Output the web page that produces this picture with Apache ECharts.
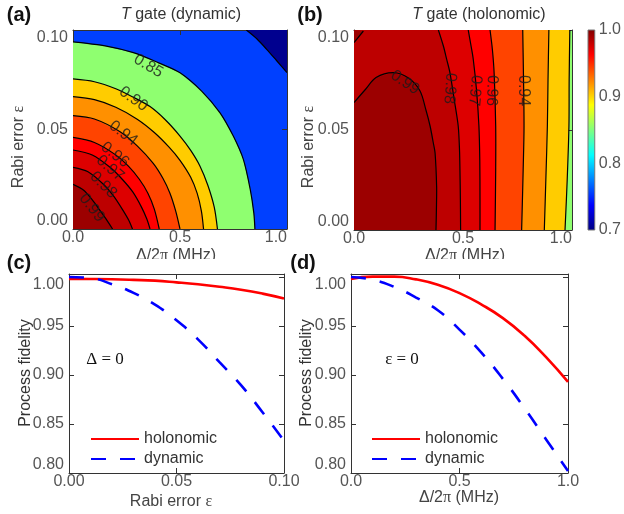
<!DOCTYPE html>
<html>
<head>
<meta charset="utf-8">
<script src="https://cdn.jsdelivr.net/npm/echarts@6/dist/echarts.min.js"></script>
<style>
  html, body { margin: 0; padding: 0; background: #fff; }
  #main { width: 624px; height: 514px; }
</style>
</head>
<body>
<div id="main"></div>
<script>
  // --- line plots (c) and (d) ---
  var rabiX = [0, 0.01, 0.02, 0.03, 0.04, 0.05, 0.06, 0.07, 0.08, 0.09, 0.1];
  var holoVsRabi = [0.998, 0.9979, 0.9976, 0.997, 0.9962, 0.9945, 0.9925, 0.99, 0.987, 0.983, 0.978];
  var dynVsRabi = [1.0, 0.9988, 0.9926, 0.9837, 0.9718, 0.9558, 0.9363, 0.913, 0.8896, 0.862, 0.833];

  var detuneX = [0, 0.1, 0.2, 0.3, 0.4, 0.5, 0.6, 0.7, 0.8, 0.9, 1.0];
  var holoVsDetune = [0.998, 1.0003, 1.0003, 0.9975, 0.992, 0.9835, 0.972, 0.958, 0.94, 0.918, 0.893];
  var dynVsDetune = [1.0, 0.9972, 0.9898, 0.979, 0.966, 0.9463, 0.923, 0.896, 0.866, 0.834, 0.802];

  var fidelityTicks = [0.8, 0.85, 0.9, 0.95, 1.0];

  // --- contour lines, panel (a): [detuning, rabi error] ---
  var a075 = [[0.81, 0.1], [0.86, 0.0955], [0.905, 0.0903], [0.95, 0.0848], [1.0, 0.0786]];
  var a085 = [[0, 0.094], [0.15, 0.092], [0.282, 0.0886], [0.4, 0.0835], [0.5, 0.0785], [0.601, 0.0693], [0.687, 0.0584], [0.749, 0.0467], [0.796, 0.035], [0.828, 0.02], [0.845, 0.008], [0.85, 0]];
  var a090 = [[0, 0.0754], [0.1, 0.074], [0.2, 0.0705], [0.282, 0.0662], [0.36, 0.0615], [0.43, 0.055], [0.5, 0.0467], [0.55, 0.0395], [0.593, 0.0317], [0.63, 0.022], [0.66, 0.011], [0.675, 0]];
  var a092 = [[0, 0.0665], [0.1, 0.065], [0.2, 0.0612], [0.3, 0.0552], [0.38, 0.0485], [0.45, 0.041], [0.5, 0.0345], [0.55, 0.026], [0.58, 0.018], [0.6, 0.009], [0.61, 0]];
  var a094 = [[0, 0.057], [0.1, 0.0553], [0.22, 0.0489], [0.3, 0.0418], [0.375, 0.033], [0.42, 0.0255], [0.453, 0.018], [0.48, 0.009], [0.5, 0]];
  var a096 = [[0, 0.046], [0.1, 0.0435], [0.196, 0.0375], [0.26, 0.0315], [0.31, 0.025], [0.35, 0.018], [0.38, 0.01], [0.403, 0]];
  var a097 = [[0, 0.0397], [0.09, 0.0372], [0.173, 0.031], [0.23, 0.025], [0.28, 0.0185], [0.32, 0.011], [0.345, 0.005], [0.36, 0]];
  var a098 = [[0, 0.031], [0.07, 0.0288], [0.142, 0.0225], [0.19, 0.0165], [0.23, 0.01], [0.26, 0.0045], [0.278, 0]];
  var a099 = [[0, 0.0225], [0.05, 0.0195], [0.091, 0.0145], [0.125, 0.0095], [0.155, 0.005], [0.185, 0]];

  // --- contour lines, panel (b) ---
  var b090 = [[0.99, 0.1], [0.987, 0.075], [0.986, 0.052], [0.978, 0.025], [0.968, 0]];
  var b092 = [[0.894, 0.1], [0.89, 0.075], [0.887, 0.052], [0.88, 0.025], [0.873, 0]];
  var b094 = [[0.774, 0.1], [0.777, 0.08], [0.78, 0.052], [0.776, 0.03], [0.769, 0]];
  var b096 = [[0.624, 0.1], [0.635, 0.09], [0.643, 0.078], [0.65, 0.052], [0.65, 0.03], [0.647, 0]];
  var b097 = [[0.524, 0.1], [0.537, 0.092], [0.547, 0.0854], [0.562, 0.07], [0.573, 0.052], [0.577, 0.035], [0.578, 0.015], [0.578, 0]];
  var b098 = [[0.387, 0.1], [0.41, 0.092], [0.425, 0.0854], [0.44, 0.0787], [0.46, 0.065], [0.478, 0.052], [0.484, 0.04], [0.486, 0.03], [0.488, 0.015], [0.489, 0]];
  var b099 = [[0, 0.0637], [0.05, 0.07], [0.101, 0.0762], [0.18, 0.0787], [0.25, 0.076], [0.303, 0.0695], [0.33, 0.06], [0.349, 0.052], [0.363, 0.044], [0.372, 0.0384], [0.379, 0.0217], [0.378, 0.01], [0.376, 0]];
  var b099corner = [[0, 0.0937], [0.043, 0.0995]];

  // contour label spots: [x, y, text, angle]
  var labelsA = [[0.352, 0.0819, '0.85', -31], [0.282, 0.0653, '0.90', -36], [0.235, 0.0481, '0.94', -37],
    [0.196, 0.0372, '0.96', -38], [0.173, 0.0305, '0.97', -41], [0.142, 0.0221, '0.98', -45], [0.088, 0.0106, '0.99', -52]];
  var labelsB = [[0.234, 0.0737, '0.99', -34], [0.44, 0.0708, '0.98', -94], [0.555, 0.0697, '0.97', -95],
    [0.632, 0.0697, '0.96', -92], [0.777, 0.0697, '0.94', -90]];

  var chart = echarts.init(document.getElementById('main'));
  var SANS = '"Liberation Sans", Arial, sans-serif';
  var SERIF = '"Liberation Serif", "DejaVu Serif", serif';
  var TICK = '#555', LINE = '#333';

  var NAVY = '#00008F', BLUE = '#0040FF', GREEN = '#8FFF70', YELLOW = '#FFCC00', ORANGE = '#FF9000',
    ORED = '#FF4400', RED = '#FF0000', RED2 = '#DD0000', RED3 = '#BD0000', DARK = '#9C0000';

  // regions: curve + closing corners, drawn in order
  var regionsA = [
    { c: a075, close: [[1, 0.1]], fill: NAVY },
    { c: a085, close: [[0, 0]], fill: GREEN },
    { c: a090, close: [[0, 0]], fill: YELLOW },
    { c: a092, close: [[0, 0]], fill: ORANGE },
    { c: a094, close: [[0, 0]], fill: ORED },
    { c: a096, close: [[0, 0]], fill: RED },
    { c: a097, close: [[0, 0]], fill: RED2 },
    { c: a098, close: [[0, 0]], fill: RED3 },
    { c: a099, close: [[0, 0]], fill: DARK }
  ];
  var regionsB = [
    { c: b090, close: [[0, 0], [0, 0.1]], fill: YELLOW },
    { c: b092, close: [[0, 0], [0, 0.1]], fill: ORANGE },
    { c: b094, close: [[0, 0], [0, 0.1]], fill: ORED },
    { c: b096, close: [[0, 0], [0, 0.1]], fill: RED },
    { c: b097, close: [[0, 0], [0, 0.1]], fill: RED2 },
    { c: b098, close: [[0, 0], [0, 0.1]], fill: RED3 },
    { c: b099, close: [[0, 0]], fill: DARK },
    { c: b099corner, close: [[0, 0.1]], fill: DARK }
  ];

  function contourSeries(regions, axisIdx) {
    return {
      type: 'custom', xAxisIndex: axisIdx, yAxisIndex: axisIdx, clip: true, silent: true,
      data: regions.map(function (r) { return r.c[0]; }),
      renderItem: function (params, api) {
        var r = regions[params.dataIndex];
        var curve = r.c.map(function (p) { return api.coord(p); });
        var poly = curve.concat(r.close.map(function (p) { return api.coord(p); }));
        return {
          type: 'group', children: [
            { type: 'polygon', shape: { points: poly }, style: { fill: r.fill } },
            { type: 'polyline', shape: { points: curve, smooth: 0.3 }, style: { stroke: '#000', lineWidth: 1.2, fill: null } }
          ]
        };
      }
    };
  }

  function labelSeries(spots, axisIdx) {
    return {
      type: 'scatter', xAxisIndex: axisIdx, yAxisIndex: axisIdx, symbolSize: 0, silent: true, z: 5,
      data: spots.map(function (s) {
        return { value: [s[0], s[1]], label: { formatter: s[2], rotate: s[3] } };
      }),
      label: { show: true, position: 'inside', color: '#1a1a1a', fontSize: 16, fontFamily: SANS }
    };
  }

  function xAx(grid, min, max, interval, digits, top, alignRight) {
    return {
      type: 'value', gridIndex: grid, min: min, max: max, interval: interval, position: top ? 'top' : 'bottom',
      axisLine: { show: true, onZero: false, lineStyle: { color: LINE, width: 1 } },
      axisTick: { show: true, inside: true, length: 5, lineStyle: { color: LINE } },
      axisLabel: { show: !top, margin: 1, color: TICK, fontSize: 16, fontFamily: SANS,
        alignMaxLabel: alignRight ? 'right' : null,
        formatter: function (v) { return v.toFixed(digits); } },
      splitLine: { show: false }
    };
  }
  function yAx(grid, min, max, interval, digits, right, custom) {
    var ax = {
      type: 'value', gridIndex: grid, min: min, max: max, interval: interval, position: right ? 'right' : 'left',
      axisLine: { show: true, onZero: false, lineStyle: { color: LINE, width: 1 } },
      axisTick: { show: true, inside: true, length: 5, lineStyle: { color: LINE } },
      axisLabel: { show: !right, margin: 5, color: TICK, fontSize: 16, fontFamily: SANS,
        verticalAlignMinLabel: 'bottom', verticalAlignMaxLabel: 'top',
        formatter: function (v) { return v.toFixed(digits); } },
      splitLine: { show: false }
    };
    if (custom) {
      ax.axisTick.customValues = custom;
      ax.axisLabel.customValues = custom;
    }
    return ax;
  }

  var jetStops = [
    { offset: 0, color: '#800000' }, { offset: 0.125, color: '#FF0000' }, { offset: 0.375, color: '#FFFF00' },
    { offset: 0.625, color: '#00FFFF' }, { offset: 0.875, color: '#0000FF' }, { offset: 1, color: '#000080' }
  ];

  function txt(x, y, text, opts) {
    opts = opts || {};
    return {
      type: 'text', x: x, y: y, rotation: opts.rot || 0, z: opts.z || 10,
      style: {
        text: text, fill: opts.color || '#333',
        font: (opts.bold ? 'bold ' : '') + (opts.size || 16) + 'px ' + (opts.family || SANS),
        align: 'center', verticalAlign: 'middle', textAlign: 'center', textVerticalAlign: 'middle',
        rich: opts.rich
      }
    };
  }
  var richSym = {
    i: { fontStyle: 'italic', fontSize: 16, fontFamily: SANS, fill: '#333', color: '#333' },
    s: { fontSize: 16, fontFamily: SERIF, fill: '#444', color: '#444' }
  };

  var legendBase = {
    orient: 'vertical', itemWidth: 48, itemHeight: 14, itemGap: 4, selectedMode: false,
    data: ['holonomic', 'dynamic'], itemStyle: { opacity: 0 },
    textStyle: { fontSize: 16, color: '#333', fontFamily: SANS }
  };

  var option = {
    animation: false,
    grid: [
      { left: 73, top: 30, width: 214, height: 199, show: true, backgroundColor: BLUE, borderWidth: 0 },
      { left: 354, top: 30, width: 218, height: 200, show: true, backgroundColor: GREEN, borderWidth: 0 },
      { left: 588, top: 30, width: 14, height: 200 },
      { left: 69, top: 274, width: 215, height: 199 },
      { left: 351, top: 274, width: 217, height: 199 }
    ],
    xAxis: [
      xAx(0, 0, 1, 0.5, 1, false, true),
      xAx(0, 0, 1, 0.5, 1, true),
      xAx(1, 0, 1, 0.5, 1, false, true),
      xAx(1, 0, 1, 0.5, 1, true),
      { type: 'value', gridIndex: 2, min: 0, max: 1, show: false },
      xAx(3, 0, 0.1, 0.05, 2, false),
      xAx(3, 0, 0.1, 0.05, 2, true),
      xAx(4, 0, 1, 0.5, 1, false),
      xAx(4, 0, 1, 0.5, 1, true)
    ],
    yAxis: [
      yAx(0, 0, 0.1, 0.05, 2, false),
      yAx(0, 0, 0.1, 0.05, 2, true),
      yAx(1, 0, 0.1, 0.05, 2, false),
      yAx(1, 0, 0.1, 0.05, 2, true),
      {
        type: 'value', gridIndex: 2, min: 0.7, max: 1.0, interval: 0.1, position: 'right',
        axisLine: { show: false }, axisTick: { show: false }, splitLine: { show: false },
        axisLabel: { margin: 4, color: TICK, fontSize: 16, fontFamily: SANS, formatter: function (v) { return v.toFixed(1); } }
      },
      yAx(3, 0.8, 1.003, 0.05, 2, false, fidelityTicks),
      yAx(3, 0.8, 1.003, 0.05, 2, true, fidelityTicks),
      yAx(4, 0.8, 1.003, 0.05, 2, false, fidelityTicks),
      yAx(4, 0.8, 1.003, 0.05, 2, true, fidelityTicks)
    ],
    legend: [
      Object.assign({ left: 85, top: 426 }, legendBase),
      Object.assign({ left: 366, top: 426 }, legendBase)
    ],
    series: [
      contourSeries(regionsA, 0),
      labelSeries(labelsA, 0),
      contourSeries(regionsB, 2),
      labelSeries(labelsB, 2),
      {
        type: 'custom', xAxisIndex: 4, yAxisIndex: 4, silent: true, data: [[0, 0.7]],
        renderItem: function (params, api) {
          var p0 = api.coord([0, 1.0]), p1 = api.coord([1, 0.7]);
          return { type: 'rect', shape: { x: p0[0], y: p0[1], width: p1[0] - p0[0], height: p1[1] - p0[1] },
            style: { fill: new echarts.graphic.LinearGradient(0, 0, 0, 1, jetStops), stroke: '#777', lineWidth: 1 } };
        }
      },
      { name: 'holonomic', type: 'line', xAxisIndex: 5, yAxisIndex: 5, symbol: 'none', smooth: true,
        data: rabiX.map(function (x, i) { return [x, holoVsRabi[i]]; }),
        lineStyle: { color: '#FF0000', width: 2.6 }, itemStyle: { color: '#FF0000' } },
      { name: 'dynamic', type: 'line', xAxisIndex: 5, yAxisIndex: 5, symbol: 'none', smooth: true,
        data: rabiX.map(function (x, i) { return [x, dynVsRabi[i]]; }),
        lineStyle: { color: '#0000FF', width: 2.6, type: [15, 14] }, itemStyle: { color: '#0000FF' } },
      { name: 'holonomic', type: 'line', xAxisIndex: 7, yAxisIndex: 7, symbol: 'none', smooth: true,
        data: detuneX.map(function (x, i) { return [x, holoVsDetune[i]]; }),
        lineStyle: { color: '#FF0000', width: 2.6 }, itemStyle: { color: '#FF0000' } },
      { name: 'dynamic', type: 'line', xAxisIndex: 7, yAxisIndex: 7, symbol: 'none', smooth: true,
        data: detuneX.map(function (x, i) { return [x, dynVsDetune[i]]; }),
        lineStyle: { color: '#0000FF', width: 2.6, type: [15, 14] }, itemStyle: { color: '#0000FF' } }
    ],
    graphic: [
      txt(19, 15, '(a)', { bold: true, size: 20, color: '#111' }),
      txt(310, 15, '(b)', { bold: true, size: 20, color: '#111' }),
      txt(176, 256, 'Δ/2{s|π} (MHz)', { color: '#444', rich: richSym, z: 8 }),
      txt(465, 256, 'Δ/2{s|π} (MHz)', { color: '#444', rich: richSym, z: 8 }),
      { type: 'rect', z: 9, shape: { x: 110, y: 259, width: 140, height: 12 }, style: { fill: '#fff' } },
      { type: 'rect', z: 9, shape: { x: 400, y: 259, width: 140, height: 12 }, style: { fill: '#fff' } },
      txt(19, 263, '(c)', { bold: true, size: 20, color: '#111' }),
      txt(303, 263, '(d)', { bold: true, size: 20, color: '#111' }),
      txt(181, 15, '{i|T} gate (dynamic)', { rich: richSym }),
      txt(479, 15, '{i|T} gate (holonomic)', { rich: richSym }),
      txt(19, 147, 'Rabi error {s|ε}', { rot: Math.PI / 2, color: '#444', rich: richSym }),
      txt(309, 147, 'Rabi error {s|ε}', { rot: Math.PI / 2, color: '#444', rich: richSym }),
      txt(26, 373, 'Process fidelity', { rot: Math.PI / 2, color: '#333' }),
      txt(307, 373, 'Process fidelity', { rot: Math.PI / 2, color: '#333' }),
      txt(171, 502, 'Rabi error {s|ε}', { color: '#444', rich: richSym }),
      txt(459, 498, 'Δ/2{s|π} (MHz)', { color: '#444', rich: richSym }),
      txt(105, 360, 'Δ = 0', { family: SERIF, size: 17, color: '#111' }),
      txt(402, 360, 'ε = 0', { family: SERIF, size: 17, color: '#111' })
    ]
  };
  chart.setOption(option);
</script>
</body>
</html>
